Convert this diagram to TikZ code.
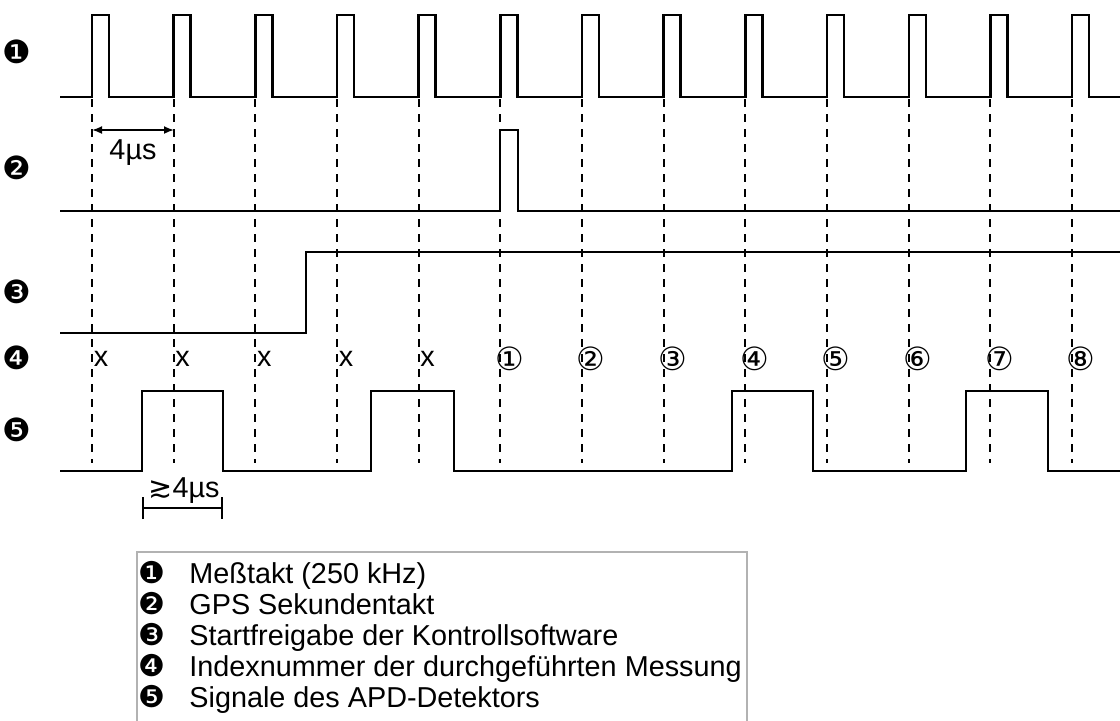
\documentclass[tikz,border=0pt]{standalone}
\usepackage{fontspec}
\setmainfont{Liberation Sans}
\newfontfamily\dejavu{DejaVu Sans}
\usetikzlibrary{arrows.meta}

\begin{document}
\begin{tikzpicture}[x=0.5pt,y=-0.5pt,
    sig/.style={line width=1.2pt},
    guide/.style={line width=1.1pt,dash pattern=on 4pt off 3.5pt},
    lbl/.style={inner sep=0pt,font=\fontsize{14.4}{16}\selectfont},
    num/.style={inner sep=0pt,font=\dejavu\fontsize{16}{18}\selectfont}]
    \useasboundingbox (0,0) rectangle (1120,720);
    % Messtakt
    \draw[sig] (60,97) \foreach \k in {0,...,12}{ -- ({92+81.67*\k},97) -- ++(0,-82) -- ++(17,0) -- ++(0,82)} -- (1120,97);
    \foreach \k in {0,...,12}
        \draw[guide] ({92+81.67*\k},99) -- ++(0,364);
    % GPS, Startfreigabe, APD
    \draw[sig] (60,211) -- (500,211) -- (500,130) -- (518,130) -- (518,211) -- (1120,211);
    \draw[sig] (60,333) -- (306,333) -- (306,252) -- (1120,252);
    \draw[sig] (60,471) -| (142,391) -| (223,471) -| (371,391) -| (454,471) -| (732,391) -| (813,471) -| (966,391) -| (1048,471) -- (1120,471);
    % Indexnummern
    \foreach \k in {0,...,4}
        \node[lbl] (idx\k) at ({101+81.67*\k},359) {x};
    \foreach \k/\c in {5/①,6/②,7/③,8/④,9/⑤,10/⑥,11/⑦,12/⑧}
        \node[num] (idx\k) at ({101+81.67*\k},359) {\c};
    % Zeitmarken
    \coordinate (p0) at (92,130);
    \coordinate (p1) at (174,130);
    \draw[{Latex[length=5pt,width=4pt]}-{Latex[length=5pt,width=4pt]},line width=0.9pt] (p0) -- (p1);
    \node[lbl,anchor=base] (per) at (133,159) {4µs};
    \coordinate (w0) at (142,508);
    \coordinate (w1) at (223,508);
    \draw[{Bar[width=11pt]}-{Bar[width=11pt]},line width=0.9pt] (w0) -- (w1);
    \node[lbl,anchor=base] (wid) at (184,497) {{\dejavu ≳}4µs};
    % Zeilennummern
    \foreach \n/\c/\y in {1/❶/52,2/❷/168,3/❸/292,4/❹/358,5/❺/430}
        \node[num] (row\n) at (17,\y) {\c};
    % Legende
    \draw[gray!60,line width=0.6pt] (137,552) rectangle (747,730);
    \foreach \n/\c/\t [count=\i from 0] in {1/❶/Meßtakt (250 kHz),2/❷/GPS Sekundentakt,3/❸/Startfreigabe der Kontrollsoftware,4/❹/Indexnummer der durchgeführten Messung,5/❺/Signale des APD-Detektors}{
        \node[num,font=\dejavu\fontsize{15}{17}\selectfont] (key\n) at (152,{573+31*\i}) {\c};
        \node[lbl,anchor=base west] (txt\n) at (189,{583+31*\i}) {\t};
    }
\end{tikzpicture}
\end{document}
